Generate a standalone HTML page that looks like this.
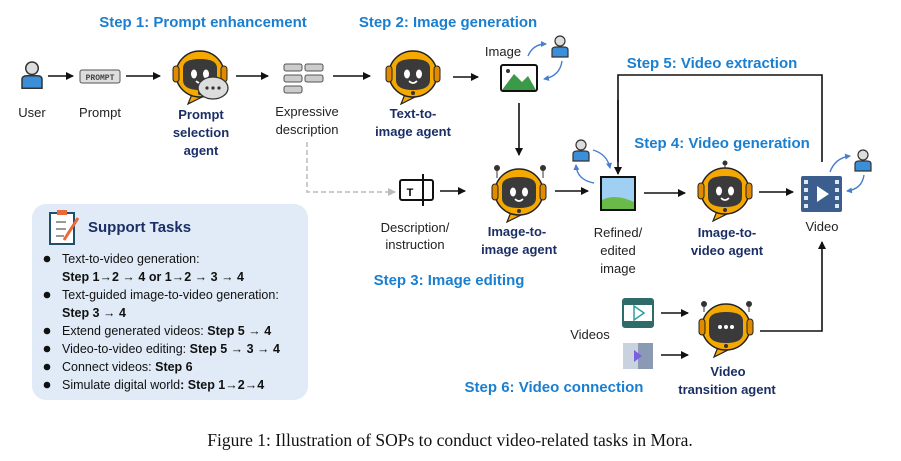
<!DOCTYPE html>
<html><head><meta charset="utf-8"><style>
html,body{margin:0;padding:0;background:#fff;}
svg{display:block;font-family:"Liberation Sans",sans-serif;}
.st{fill:#1a7fd0;font-weight:bold;font-size:15px;text-anchor:middle;}
.lb{fill:#222;font-size:13px;text-anchor:middle;}
.ag{fill:#1b2f66;font-weight:bold;font-size:13px;text-anchor:middle;}
.ln{stroke:#111;stroke-width:1.6;fill:none;}
.tx{fill:#111;font-size:12.5px;}
</style></head><body>
<svg width="901" height="461" viewBox="0 0 901 461">
<defs>
<marker id="ah" markerWidth="8" markerHeight="8" refX="7" refY="4" orient="auto" markerUnits="userSpaceOnUse"><path d="M0,0 L8,4 L0,8z" fill="#111"/></marker>
<marker id="ag" markerWidth="8" markerHeight="8" refX="7" refY="4" orient="auto" markerUnits="userSpaceOnUse"><path d="M0,0 L8,4 L0,8z" fill="#bbb"/></marker>
<marker id="ab" markerWidth="6" markerHeight="6" refX="5" refY="3" orient="auto" markerUnits="userSpaceOnUse"><path d="M0,0 L6,3 L0,6z" fill="#4a7fd0"/></marker>
<g id="rbody">
<path d="M-8,20 L-12,30 L4,22z" fill="#f5a800" stroke="#222" stroke-width="1.2"/>
<ellipse cx="0" cy="0" rx="24" ry="23" fill="#f5a800" stroke="#222" stroke-width="1.5"/>
<rect x="-27" y="-8" width="6" height="16" rx="3" fill="#e08a00" stroke="#222"/>
<rect x="21" y="-8" width="6" height="16" rx="3" fill="#e08a00" stroke="#222"/>
<path d="M-17,-6 Q-17,-15 0,-15 Q17,-15 17,-6 L17,6 Q17,16 0,16 Q-17,16 -17,6z" fill="#3a3a3a"/>
<circle cx="0" cy="19" r="2" fill="#333"/>
</g>
<g id="robot">
<use href="#rbody"/>
<ellipse cx="-6" cy="0" rx="3" ry="4.5" fill="#fff"/><ellipse cx="6" cy="0" rx="3" ry="4.5" fill="#fff"/>
<path d="M-4,7 Q0,11 4,7" stroke="#fff" stroke-width="1.6" fill="none"/>
</g>
<g id="person">
<circle cx="0" cy="-7" r="5" fill="#ddd" stroke="#333" stroke-width="1.2"/>
<path d="M-8,9 L-8,2 Q-8,-1 -4,-1 L4,-1 Q8,-1 8,2 L8,9z" fill="#3b8fd8" stroke="#333" stroke-width="1.2"/>
</g>
</defs>

<text class="st" x="203" y="27">Step 1: Prompt enhancement</text>
<text class="st" x="448" y="27">Step 2: Image generation</text>
<text class="st" x="712" y="68">Step 5: Video extraction</text>
<text class="st" x="722" y="148">Step 4: Video generation</text>
<text class="st" x="449" y="285">Step 3: Image editing</text>
<text class="st" x="554" y="392">Step 6: Video connection</text>

<g transform="translate(32,77) scale(1.25)"><use href="#person"/></g>
<text class="lb" x="32" y="117">User</text>
<line class="ln" x1="48" y1="76" x2="73" y2="76" marker-end="url(#ah)"/>
<rect x="80" y="70" width="40" height="13" rx="2" fill="#ddd" stroke="#555"/>
<text x="100" y="80" font-size="8" font-family="Liberation Mono" font-weight="bold" text-anchor="middle" fill="#444">PROMPT</text>
<text class="lb" x="100" y="117">Prompt</text>
<line class="ln" x1="126" y1="76" x2="160" y2="76" marker-end="url(#ah)"/>
<g transform="translate(200,74)"><use href="#robot"/></g>
<ellipse cx="213" cy="88" rx="15" ry="11" fill="#ddd" stroke="#333" stroke-width="1.3"/>
<circle cx="207" cy="88" r="1.6" fill="#333"/><circle cx="213" cy="88" r="1.6" fill="#333"/><circle cx="219" cy="88" r="1.6" fill="#333"/>
<text class="ag" x="201" y="119">Prompt</text><text class="ag" x="201" y="137">selection</text><text class="ag" x="201" y="155">agent</text>
<line class="ln" x1="236" y1="76" x2="268" y2="76" marker-end="url(#ah)"/>
<g fill="#ccc" stroke="#555" stroke-width="1"><rect x="284" y="64" width="18" height="7" rx="2"/><rect x="305" y="64" width="18" height="7" rx="2"/><rect x="284" y="75" width="18" height="7" rx="2"/><rect x="305" y="75" width="18" height="7" rx="2"/><rect x="284" y="86" width="18" height="7" rx="2"/></g>
<text class="lb" x="307" y="116">Expressive</text><text class="lb" x="307" y="134">description</text>
<line class="ln" x1="333" y1="76" x2="370" y2="76" marker-end="url(#ah)"/>
<g transform="translate(413,74)"><use href="#robot"/></g>
<text class="ag" x="413" y="118">Text-to-</text><text class="ag" x="413" y="136">image agent</text>
<line class="ln" x1="453" y1="77" x2="478" y2="77" marker-end="url(#ah)"/>
<text class="lb" x="503" y="56">Image</text>
<rect x="501" y="65" width="36" height="26" rx="2" fill="#fff" stroke="#111" stroke-width="2"/>
<path d="M502,90 L514,74 L522,82 L528,76 L536,90z" fill="#3a9a48"/><circle cx="508" cy="71" r="2" fill="#333"/>
<g transform="translate(560,48)"><use href="#person"/></g>
<path d="M528,56 Q533,44 546,44" stroke="#4a7fd0" stroke-width="1.4" fill="none" marker-end="url(#ab)"/>
<path d="M562,61 Q560,76 544,79" stroke="#4a7fd0" stroke-width="1.4" fill="none" marker-end="url(#ab)"/>
<line class="ln" x1="519" y1="103" x2="519" y2="155" marker-end="url(#ah)"/>

<path d="M307,142 L307,192 L395,192" stroke="#bbb" stroke-width="1.5" stroke-dasharray="5,3" fill="none" marker-end="url(#ag)"/>
<rect x="400" y="180" width="33" height="20" rx="2" fill="#fff" stroke="#111" stroke-width="2"/>
<line x1="423" y1="174" x2="423" y2="206" stroke="#111" stroke-width="2"/>
<text x="410" y="196" font-size="11" font-weight="bold" text-anchor="middle">T</text>
<line class="ln" x1="440" y1="191" x2="465" y2="191" marker-end="url(#ah)"/>
<text class="lb" x="415" y="232">Description/</text><text class="lb" x="415" y="249">instruction</text>
<line x1="497" y1="170" x2="497" y2="178" stroke="#333"/><circle cx="497" cy="168" r="3" fill="#333"/>
<line x1="543" y1="170" x2="543" y2="178" stroke="#333"/><circle cx="543" cy="168" r="3" fill="#333"/>
<g transform="translate(519,192)"><use href="#robot"/></g>
<text class="ag" x="517" y="236">Image-to-</text><text class="ag" x="519" y="254">image agent</text>
<line class="ln" x1="555" y1="191" x2="588" y2="191" marker-end="url(#ah)"/>
<g transform="translate(581,152)"><use href="#person"/></g>
<path d="M593,150 Q607,154 610,168" stroke="#4a7fd0" stroke-width="1.4" fill="none" marker-end="url(#ab)"/>
<path d="M594,183 Q577,180 576,165" stroke="#4a7fd0" stroke-width="1.4" fill="none" marker-end="url(#ab)"/>
<rect x="601" y="177" width="34" height="33" fill="#9fd0f4" stroke="#111" stroke-width="2"/>
<path d="M602,200 Q615,193 634,202 L634,209 L602,209z" fill="#6aba4a"/>
<text class="lb" x="618" y="237">Refined/</text><text class="lb" x="618" y="255">edited</text><text class="lb" x="618" y="273">image</text>
<path class="ln" d="M618,162 L618,75 L822,75 L822,162"/>
<line class="ln" x1="618" y1="100" x2="618" y2="174" marker-end="url(#ah)"/>
<line class="ln" x1="644" y1="193" x2="685" y2="193" marker-end="url(#ah)"/>
<line x1="725" y1="162" x2="725" y2="168" stroke="#333"/><circle cx="725" cy="163" r="2.5" fill="#333"/>
<g transform="translate(725,191)"><use href="#robot"/></g>
<text class="ag" x="727" y="237">Image-to-</text><text class="ag" x="727" y="255">video agent</text>
<line class="ln" x1="759" y1="192" x2="793" y2="192" marker-end="url(#ah)"/>
<rect x="801" y="176" width="41" height="36" rx="2" fill="#3c5e8f"/>
<g fill="#dfe8f5"><rect x="804" y="180" width="4" height="4"/><rect x="804" y="188" width="4" height="4"/><rect x="804" y="196" width="4" height="4"/><rect x="804" y="204" width="4" height="4"/><rect x="835" y="180" width="4" height="4"/><rect x="835" y="188" width="4" height="4"/><rect x="835" y="196" width="4" height="4"/><rect x="835" y="204" width="4" height="4"/></g>
<path d="M817,186 L829,194 L817,202z" fill="#fff"/>
<text class="lb" x="822" y="231">Video</text>
<g transform="translate(863,162)"><use href="#person"/></g>
<path d="M830,172 Q835,158 850,156" stroke="#4a7fd0" stroke-width="1.4" fill="none" marker-end="url(#ab)"/>
<path d="M864,175 Q862,189 847,191" stroke="#4a7fd0" stroke-width="1.4" fill="none" marker-end="url(#ab)"/>
<path class="ln" d="M760,331 L822,331 L822,242" marker-end="url(#ah)"/>

<rect x="623" y="299" width="30" height="28" rx="2" fill="#fff" stroke="#2e6b6b" stroke-width="2"/>
<rect x="623" y="299" width="30" height="6" fill="#2e6b6b"/><rect x="623" y="321" width="30" height="6" fill="#2e6b6b"/>
<path d="M634,306 L644,313 L634,320z" fill="none" stroke="#2ea0a0" stroke-width="1.5"/>
<rect x="623" y="343" width="30" height="26" fill="#c9d3e0"/>
<rect x="638" y="343" width="15" height="26" fill="#8a9ab5"/>
<path d="M634,350 L642,356 L634,362z" fill="#7a5fe0"/>
<text class="lb" x="590" y="339">Videos</text>
<line class="ln" x1="661" y1="313" x2="688" y2="313" marker-end="url(#ah)"/>
<line class="ln" x1="661" y1="355" x2="688" y2="355" marker-end="url(#ah)"/>
<line x1="704" y1="305" x2="704" y2="312" stroke="#333"/><circle cx="704" cy="304" r="3" fill="#333"/>
<line x1="749" y1="305" x2="749" y2="312" stroke="#333"/><circle cx="749" cy="304" r="3" fill="#333"/>
<g transform="translate(726,327)"><use href="#rbody"/>
<circle cx="-6" cy="0" r="2" fill="#fff"/><circle cx="0" cy="0" r="2" fill="#fff"/><circle cx="6" cy="0" r="2" fill="#fff"/></g>
<text class="ag" x="728" y="376">Video</text><text class="ag" x="727" y="394">transition agent</text>

<rect x="32" y="204" width="276" height="196" rx="14" fill="#e0ebf7"/>
<rect x="50" y="213" width="24" height="31" fill="#fff" stroke="#1f4f6a" stroke-width="2"/>
<rect x="57" y="210" width="10" height="5" fill="#e86a3a"/>
<path d="M56,222 L66,222 M56,229 L66,229 M56,236 L64,236" stroke="#333"/>
<line x1="78" y1="218" x2="64" y2="240" stroke="#e86a3a" stroke-width="3"/>
<text x="88" y="232" font-size="15" font-weight="bold" fill="#1b2f66">Support Tasks</text>
<g fill="#111"><circle cx="47" cy="259" r="3.3"/><circle cx="47" cy="295" r="3.3"/><circle cx="47" cy="331" r="3.3"/><circle cx="47" cy="349" r="3.3"/><circle cx="47" cy="367" r="3.3"/><circle cx="47" cy="385" r="3.3"/></g>
<text class="tx" x="62" y="263">Text-to-video generation:</text>
<text class="tx" x="62" y="281" font-weight="bold">Step 1→2 → 4  or 1→2 → 3 → 4</text>
<text class="tx" x="62" y="299">Text-guided image-to-video generation:</text>
<text class="tx" x="62" y="317" font-weight="bold">Step 3 → 4</text>
<text class="tx" x="62" y="335">Extend generated videos:   <tspan font-weight="bold">Step 5 → 4</tspan></text>
<text class="tx" x="62" y="353">Video-to-video editing:  <tspan font-weight="bold">Step 5 → 3 → 4</tspan></text>
<text class="tx" x="62" y="371">Connect videos: <tspan font-weight="bold">Step 6</tspan></text>
<text class="tx" x="62" y="389">Simulate digital world<tspan font-weight="bold">: Step 1→2→4</tspan></text>

<text x="450" y="446" font-family="'Liberation Serif',serif" font-size="17.5" text-anchor="middle" fill="#111">Figure 1: Illustration of SOPs to conduct video-related tasks in Mora.</text>
</svg>
</body></html>
